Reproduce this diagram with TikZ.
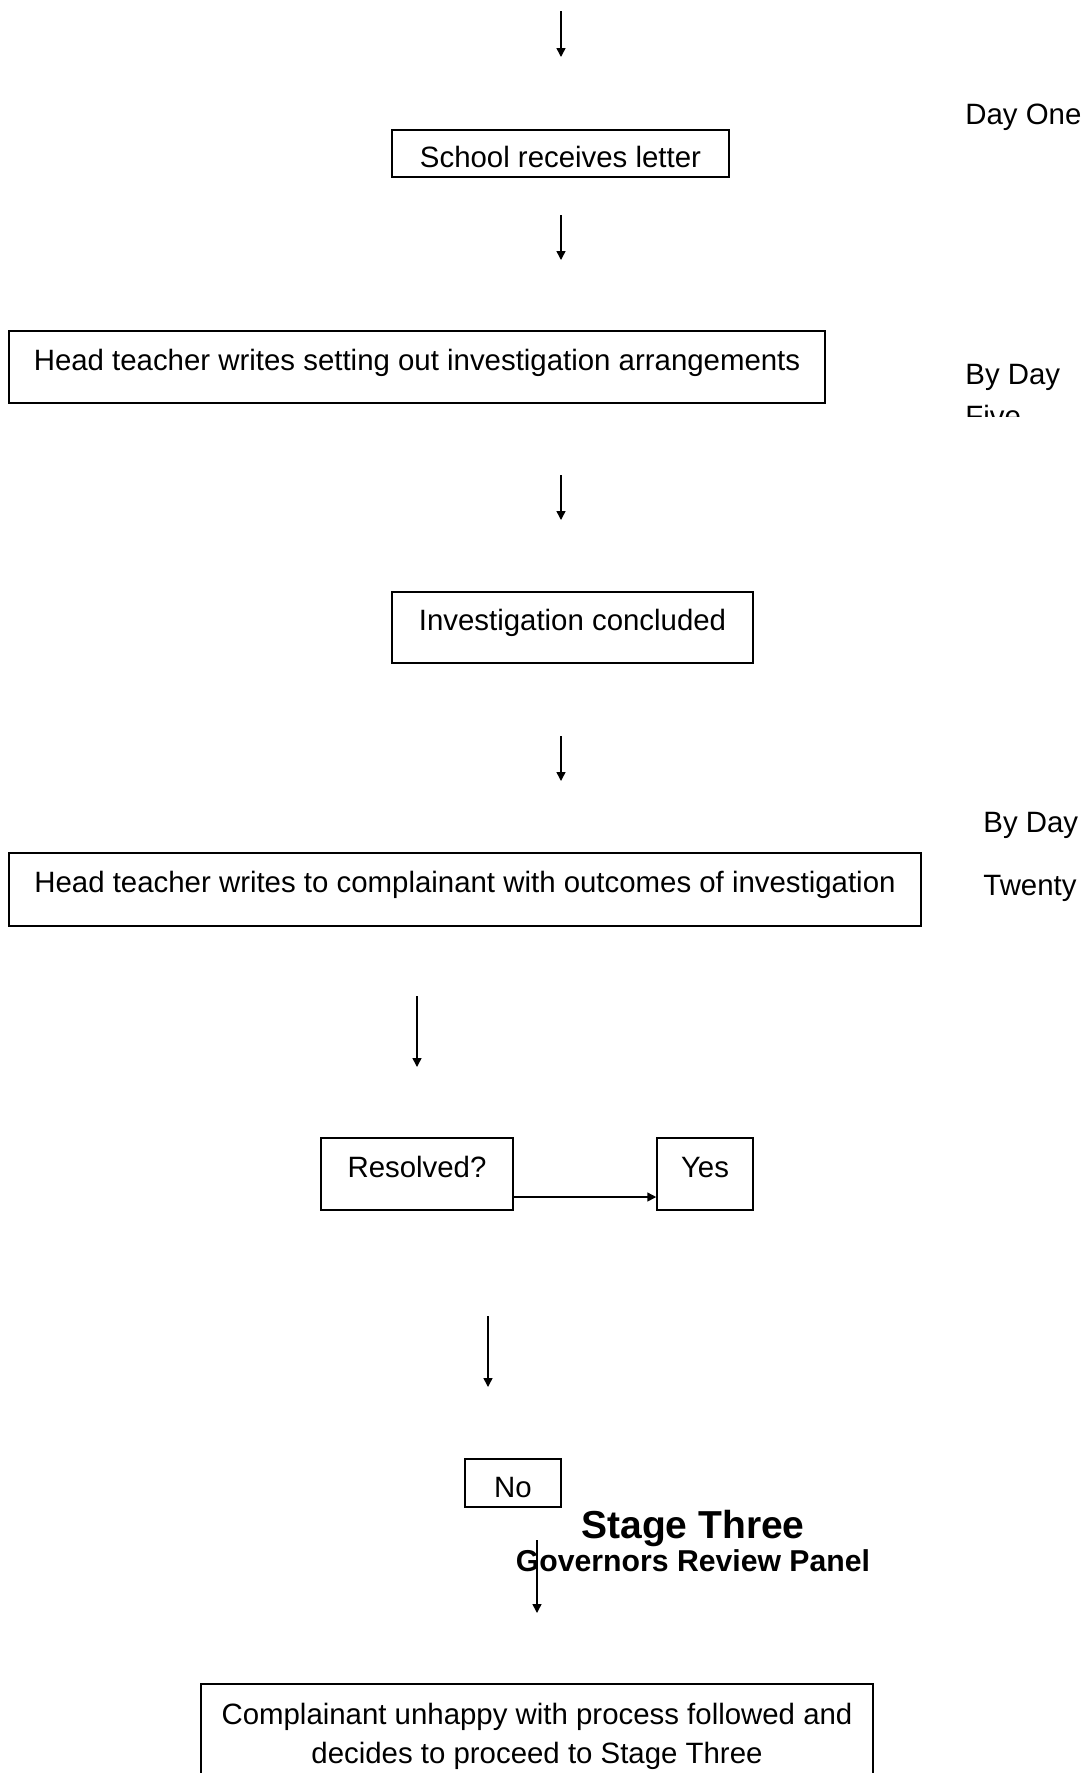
\documentclass[tikz,border=0pt]{standalone}
\usepackage{fontspec}
\setmainfont{Liberation Sans}
\usetikzlibrary{positioning,arrows.meta}

\begin{document}
\begin{tikzpicture}[x=0.5pt,y=-0.5pt,
    box/.style={draw, line width=0.75pt, inner sep=0pt, align=center,
        text height=14pt, text depth=0pt, font=\fontsize{14.7}{19.5}\selectfont},
    topbox/.style={box, text height=11.5pt, text depth=8.5pt},
    daynote/.style={anchor=west, inner sep=0pt, font=\fontsize{14.7}{19.5}\selectfont},
    flow/.style={line width=0.75pt, -{Triangle[length=4.5pt,width=4.5pt]}}]
        \useasboundingbox (0,0) rectangle (1085,1773);
        \clip (0,0) rectangle (1085,1773);
        % Nodes
        \node (letter) at (560.5,153.5) [box, minimum width=168.5pt, minimum height=23.5pt] {School receives letter};
        \node (head1) at (417,367) [topbox, minimum width=408pt, minimum height=36pt] {Head teacher writes setting out investigation arrangements};
        \node (concl) at (572.5,627.5) [topbox, minimum width=180.5pt, minimum height=35.5pt] {Investigation concluded};
        \node (head2) at (465,889.5) [topbox, minimum width=456pt, minimum height=36.5pt] {Head teacher writes to complainant with outcomes of investigation};
        \node (resolved) at (417,1174) [topbox, minimum width=96pt, minimum height=36pt] {Resolved?};
        \node (yes) at (705,1174) [topbox, minimum width=48pt, minimum height=36pt] {Yes};
        \node (no) at (513,1483) [box, minimum width=48pt, minimum height=24pt] {No};
        \node (unhappy) at (537,1739) [box, minimum width=336pt, minimum height=55pt, text height=27pt, text depth=3pt] {Complainant unhappy with process followed and\\decides to proceed to Stage Three};
        % Day labels
        \node (dayone) at (965,117.5) [daynote] {Day One};
        \node (byday5) at (965,377.5) [daynote] {By Day};
        \begin{scope}
            \clip (940,390) rectangle (1085,416);
            \node (five) at (965,416) [daynote] {Five};
        \end{scope}
        \node (byday20) at (983,825.5) [daynote] {By Day};
        \node (twenty) at (983,888.5) [daynote] {Twenty};
        % Stage heading
        \node (stage) at (693,1528) [font=\fontsize{19.5}{22}\bfseries] {Stage Three};
        \node (panel) at (693,1561) [font=\fontsize{15.1}{18}\bfseries] {Governors Review Panel};
        % Edges
        \foreach \x/\ya/\yb [count=\i] in {561/11/57, 561/215/260, 561/475/520, 561/736/781, 417/996/1067, 488/1316/1387, 537/1540/1613} {
            \coordinate (s\i) at (\x,\ya);
            \coordinate (e\i) at (\x,\yb);
            \draw[flow] (s\i) -- (e\i);
        }
        \draw[flow] ([yshift=-11.5pt]resolved.east) -- ([yshift=-11.5pt]yes.west);
\end{tikzpicture}
\end{document}
